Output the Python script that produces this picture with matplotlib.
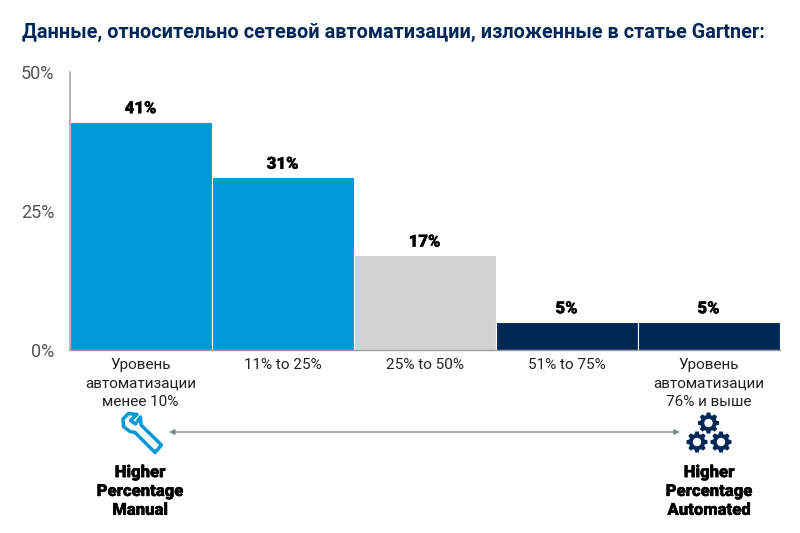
import numpy as np
import matplotlib
matplotlib.use("Agg")
import matplotlib.pyplot as plt
import matplotlib.patheffects as pe
from matplotlib.patches import Circle, Polygon

plt.rcParams["font.family"] = ["Roboto", "DejaVu Sans"]

# Datos
categorias = ["Уровень\nавтоматизации\nменее 10%", "11% to 25%", "25% to 50%",
              "51% to 75%", "Уровень\nавтоматизации\n76% и выше"]
valores = [41, 31, 17, 5, 5]
etiquetas = ["41%", "31%", "17%", "5%", "5%"]
yticks = [0, 25, 50]
ytick_labels = ["0%", "25%", "50%"]
titulo = "Данные, относительно сетевой автоматизации, изложенные в статье Gartner:"
texto_izq = "Higher\nPercentage\nManual"
texto_der = "Higher\nPercentage\nAutomated"

AZUL = "#0099D8"
GRIS = "#D2D2D2"
MARINO = "#002857"
colores = [AZUL, AZUL, GRIS, MARINO, MARINO]

W, H = 800, 533
fig = plt.figure(figsize=(W / 100, H / 100), dpi=100)
trazo = [pe.withStroke(linewidth=0.25, foreground="black")]

# Ejes principales
ax = fig.add_axes([69.5 / W, 1 - 349.7 / H, 710 / W, 278 / H])
x = np.arange(len(valores))
ax.bar(x, valores, width=1.0, color=colores, edgecolor="white", linewidth=0.8)
ax.set_xlim(-0.5, 4.5)
ax.set_ylim(0, 50)
ax.set_yticks(yticks)
ax.set_yticklabels(ytick_labels, fontsize=13, color="#555555")
ax.set_xticks(x)
ax.set_xticklabels(categorias, fontsize=11, color="#222222", linespacing=1.4, va="top")
ax.tick_params(axis="both", length=0)
ax.tick_params(axis="x", pad=6)
ax.tick_params(axis="y", pad=11)
for s in ["top", "right"]:
    ax.spines[s].set_visible(False)
ax.spines["left"].set_color("#AAAAAA")
ax.spines["left"].set_linewidth(1.2)
ax.spines["bottom"].set_color("#999999")
ax.spines["bottom"].set_linewidth(1)
for xi, v, t in zip(x, valores, etiquetas):
    ax.annotate(t, (xi, v), xytext=(0, 4), textcoords="offset points", ha="center",
                va="bottom", fontsize=12, fontweight="black", color="black", path_effects=trazo)

# Capa en pixeles para titulo, flecha e iconos
ov = fig.add_axes([0, 0, 1, 1], facecolor="none")
ov.set_xlim(0, W)
ov.set_ylim(H, 0)
ov.axis("off")

ov.text(22, 32, titulo, fontsize=14.35, fontweight="bold", color=MARINO, ha="left", va="center")

ov.annotate("", xy=(169, 432), xytext=(680, 432),
            arrowprops=dict(arrowstyle="<|-|>", color="#7F8C8D", lw=1, mutation_scale=8, shrinkA=0, shrinkB=0))

ov.text(140, 491, texto_izq, fontsize=12, fontweight="black", color="black",
        ha="center", va="center", linespacing=1.22, path_effects=trazo)
ov.text(709, 491, texto_der, fontsize=12, fontweight="black", color="black",
        ha="center", va="center", linespacing=1.22, path_effects=trazo)


def llave():
    # Contorno de la llave, coordenadas de pixel
    pts = [(137, 414.5), (128.5, 413.5), (123, 419), (123.5, 426.5), (130, 431.5), (135, 432.5),
           (155, 452.5), (161.5, 445), (141, 425), (140.5, 417), (135.5, 424), (130.5, 420.5)]
    ov.add_patch(Polygon(pts, closed=True, facecolor="none", edgecolor=AZUL, lw=2.5, joinstyle="round"))


def engrane(cx, cy, r):
    ang = np.deg2rad(np.arange(0, 360, 45))
    for a in ang:
        d = np.array([np.cos(a), np.sin(a)])
        n = np.array([-d[1], d[0]])
        w = r * 0.24
        q = [np.array([cx, cy]) + d * r * 0.7 + n * w,
             np.array([cx, cy]) + d * r + n * w * 0.7,
             np.array([cx, cy]) + d * r - n * w * 0.7,
             np.array([cx, cy]) + d * r * 0.7 - n * w]
        ov.add_patch(Polygon(q, closed=True, facecolor=MARINO, edgecolor="none"))
    ov.add_patch(Circle((cx, cy), r * 0.78, facecolor=MARINO, edgecolor="none"))
    ov.add_patch(Circle((cx, cy), r * 0.40, facecolor="white", edgecolor="none"))


llave()
engrane(708.5, 423, 10.5)
engrane(697, 442, 10.5)
engrane(721, 442, 10.5)

fig.savefig("out.png", dpi=100)
